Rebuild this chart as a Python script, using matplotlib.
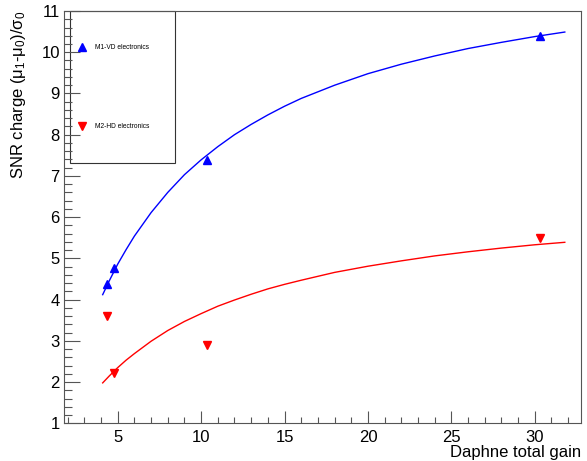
import matplotlib
matplotlib.use("Agg")
import matplotlib.pyplot as plt
from matplotlib.patches import Rectangle
from matplotlib.ticker import MultipleLocator

plt.rcParams['font.family'] = ['Liberation Sans', 'DejaVu Sans']
plt.rcParams['mathtext.fontset'] = 'custom'
plt.rcParams['mathtext.rm'] = 'Liberation Sans'
plt.rcParams['mathtext.it'] = 'Liberation Sans'

# measured points
gain = [4.38, 4.78, 10.35, 30.3]
snr_m1 = [4.37, 4.77, 7.39, 10.40]
snr_m2 = [3.60, 2.21, 2.91, 5.49]

# fit curves
fit_x = [4.1, 4.5, 5.0, 5.5, 6.0, 7.0, 8.0, 9.0, 10.0, 11.0, 12.0, 13.0,
         14.0, 15.0, 16.0, 18.0, 20.0, 22.0, 24.0, 26.0, 28.0, 30.0, 31.8]
fit_m1 = [4.12, 4.46, 4.86, 5.21, 5.54, 6.11, 6.60, 7.03, 7.39, 7.71, 8.00,
          8.25, 8.48, 8.69, 8.88, 9.20, 9.48, 9.71, 9.91, 10.09, 10.24,
          10.38, 10.49]
fit_m2 = [1.98, 2.15, 2.35, 2.53, 2.69, 2.99, 3.25, 3.47, 3.66, 3.84, 3.99,
          4.13, 4.26, 4.37, 4.47, 4.66, 4.81, 4.94, 5.06, 5.16, 5.25, 5.33,
          5.39]

labels = ["M1-VD electronics", "M2-HD electronics"]

fig = plt.figure(figsize=(5.87, 4.61), dpi=100)
ax = fig.add_axes([0.109, 0.0818, 0.8816, 0.8943])

ax.plot(fit_x, fit_m1, color='#0000ff', lw=1.0)
ax.plot(fit_x, fit_m2, color='#ff0000', lw=1.0)
ax.plot(gain, snr_m1, ls='none', marker='^', ms=5.5, color='#0000ff')
ax.plot(gain, snr_m2, ls='none', marker='v', ms=5.5, color='#ff0000')

ax.set_xlim(1.78, 32.8)
ax.set_ylim(1, 11)
ax.xaxis.set_major_locator(MultipleLocator(5))
ax.xaxis.set_minor_locator(MultipleLocator(1))
ax.yaxis.set_major_locator(MultipleLocator(1))
ax.yaxis.set_minor_locator(MultipleLocator(0.2))

tick_col = '#555555'
ax.tick_params(axis='x', which='major', direction='in', length=8.5, width=0.8,
               color=tick_col, labelsize=12, pad=5)
ax.tick_params(axis='x', which='minor', direction='in', length=4.3, width=0.8,
               color=tick_col)
ax.tick_params(axis='y', which='major', direction='in', length=11.5, width=0.8,
               color=tick_col, labelsize=12, pad=3)
ax.tick_params(axis='y', which='minor', direction='in', length=5.8, width=0.8,
               color=tick_col)
for s in ax.spines.values():
    s.set_color(tick_col)
    s.set_linewidth(0.8)

ax.set_xlabel("Daphne total gain", fontsize=12, loc='right')
ax.xaxis.set_label_coords(1.0, -0.053)
ax.set_ylabel(r"SNR charge (μ$_{1}$-μ$_{0}$)/σ$_{0}$", fontsize=12, loc='top')
ax.yaxis.set_label_coords(-0.07, 1.0)

# legend box drawn like ROOT's TLegend
ax.add_patch(Rectangle((0.0116, 0.631), 0.203, 0.369, transform=ax.transAxes,
                       fill=False, edgecolor='#333333', lw=0.8, clip_on=False))
ax.plot([0.035], [0.912], transform=ax.transAxes, marker='^', ms=5.5,
        color='#0000ff', clip_on=False)
ax.plot([0.035], [0.720], transform=ax.transAxes, marker='v', ms=5.5,
        color='#ff0000', clip_on=False)
ax.text(0.060, 0.912, labels[0], transform=ax.transAxes, fontsize=4.8,
        va='center', ha='left')
ax.text(0.060, 0.720, labels[1], transform=ax.transAxes, fontsize=4.8,
        va='center', ha='left')

fig.savefig("out.png", dpi=100)
